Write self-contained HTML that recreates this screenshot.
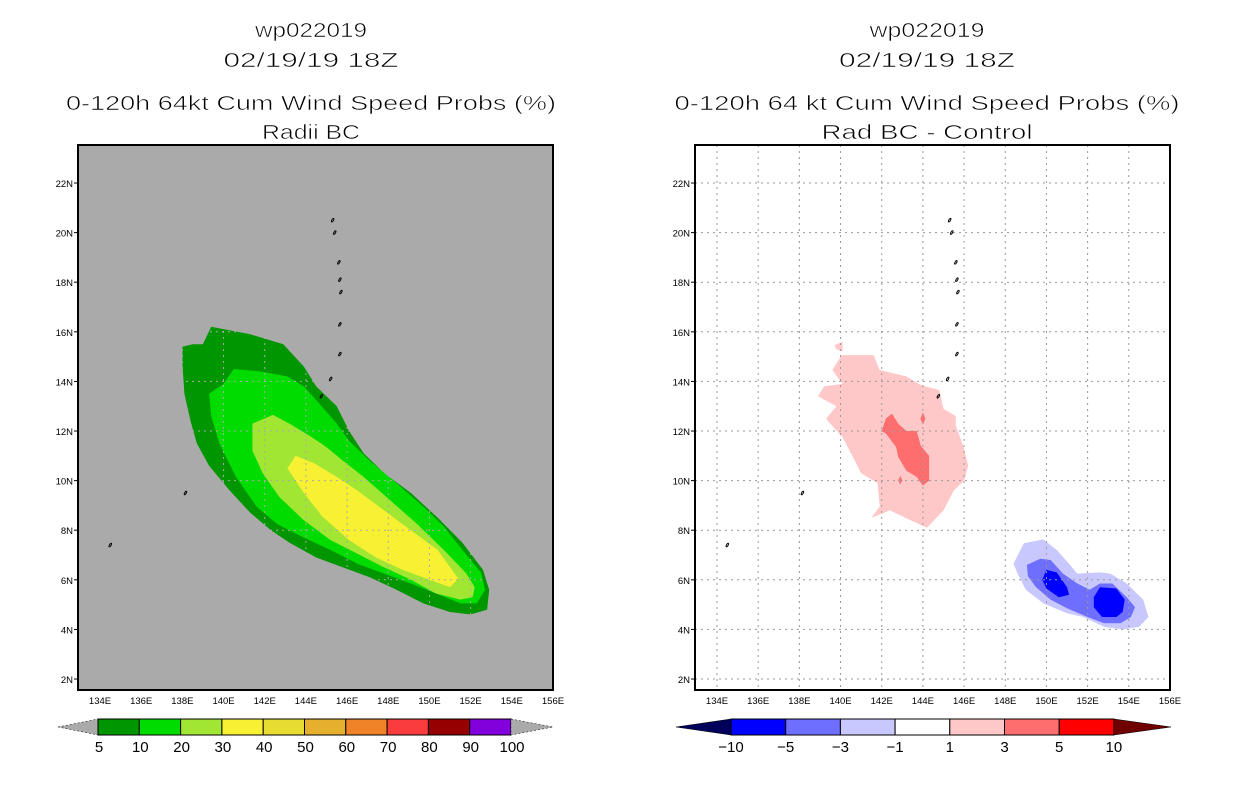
<!DOCTYPE html>
<html><head><meta charset="utf-8"><style>
html,body{margin:0;padding:0;background:#fff;}
svg{display:block;font-family:"Liberation Sans",sans-serif;}
</style></head><body>
<svg id="s" width="1236" height="800" viewBox="0 0 1236 800"></svg>
<script>
// ---- data ----
const lonTicks=[134,136,138,140,142,144,146,148,150,152,154,156];
const latTicks=[2,4,6,8,10,12,14,16,18,20,22];
const probLevels=[5,10,20,30,40,50,60,70,80,90,100];
const probColors=["#009600","#00dc00","#a0e632","#f8f032","#e6dc32","#e6af2d","#f08228","#fa3c3c","#960000","#8200dc"];
const diffLevels=[-10,-5,-3,-1,1,3,5,10];
const diffColors=["#0000ff","#6e6eff","#c8c8ff","#ffffff","#ffc8c8","#ff6e6e","#ff0000"];
// contours [lon,lat]
const prob5=[[139.4,16.2],[141.3,15.9],[142.9,15.5],[143.9,14.6],[144.5,13.8],[145.5,13.0],[146.1,12.0],[146.8,11.1],[147.8,10.3],[149.1,9.5],[150.4,8.5],[151.6,7.5],[152.6,6.4],[152.9,5.6],[152.8,4.8],[152.0,4.6],[151.0,4.7],[149.7,5.05],[148.4,5.6],[147.1,6.1],[145.8,6.5],[144.5,6.9],[143.2,7.5],[142.3,8.0],[141.3,8.7],[140.3,9.6],[139.3,10.6],[138.7,11.5],[138.4,12.4],[138.1,13.5],[138.0,14.7],[138.0,15.4],[138.5,15.5],[139.0,15.5]];
const prob10=[[140.5,14.5],[141.8,14.4],[143.1,14.2],[143.9,13.8],[144.5,13.25],[145.5,12.3],[146.1,11.6],[147.1,10.8],[148.4,9.9],[149.7,8.95],[150.7,8.15],[151.6,7.2],[152.5,6.3],[152.7,5.6],[152.3,5.05],[151.5,5.05],[150.3,5.45],[149.1,5.85],[147.8,6.25],[146.5,6.65],[145.2,7.2],[143.9,7.7],[142.6,8.25],[141.6,8.95],[140.6,10.15],[139.8,11.5],[139.4,12.6],[139.3,13.5],[140.0,13.9]];
const prob20=[[141.4,12.3],[142.4,12.65],[143.2,12.3],[144.2,11.8],[145.0,11.35],[145.8,10.8],[146.8,10.15],[148.1,9.2],[149.4,8.25],[150.7,7.2],[151.8,6.25],[152.2,5.7],[152.1,5.3],[151.5,5.2],[150.3,5.45],[149.1,6.0],[147.8,6.5],[146.5,7.05],[145.2,7.6],[143.9,8.4],[142.7,9.35],[141.9,10.3],[141.4,11.2]];
const prob30=[[143.5,11.0],[144.4,10.7],[145.5,10.15],[146.5,9.6],[147.8,8.8],[149.1,8.0],[150.4,7.2],[151.4,6.05],[151.0,5.7],[150.0,6.0],[148.7,6.4],[147.4,6.9],[146.1,7.6],[144.8,8.55],[143.9,9.5],[143.1,10.5]];
const diffP1=[[140.06,15.06],[141.6,15.06],[141.9,14.46],[143.2,14.2],[143.9,13.85],[144.8,13.65],[145.0,12.9],[145.6,12.6],[145.6,12.2],[145.96,11.4],[146.2,10.6],[146.0,10.0],[145.5,9.6],[145.0,8.8],[144.2,8.1],[143.4,8.4],[142.4,8.8],[141.5,8.5],[141.9,8.95],[141.8,9.9],[141.0,10.3],[140.6,10.95],[140.1,11.75],[139.5,12.3],[139.3,12.5],[139.8,13.0],[138.9,13.4],[139.2,13.8],[140.1,13.9],[139.6,14.46]];
const diffP1b=[[139.7,15.45],[140.1,15.6],[140.1,15.2],[139.8,15.3]];
const diffP3=[[142.5,12.7],[142.8,12.3],[143.2,12.0],[143.7,12.0],[143.9,11.4],[144.3,11.0],[144.3,10.7],[144.3,10.0],[144.0,9.8],[143.7,10.15],[143.2,10.4],[142.8,10.95],[142.7,11.35],[142.2,11.9],[142.0,12.0],[142.2,12.5]];
const diffP3b=[[144.0,12.75],[144.12,12.5],[144.0,12.25],[143.88,12.5]];
const diffP3c=[[142.9,10.2],[143.0,10.0],[142.9,9.85],[142.8,10.0]];
const diffN1=[[148.9,7.47],[149.85,7.63],[150.5,7.2],[151.1,6.65],[151.5,6.25],[152.6,6.3],[153.1,6.25],[153.9,5.85],[154.7,5.2],[154.95,4.5],[154.5,4.1],[153.7,4.0],[152.8,4.1],[151.8,4.5],[151.0,4.65],[149.85,5.05],[149.0,5.6],[148.6,6.25],[148.4,6.65]];
const diffN3=[[149.05,6.6],[149.7,6.85],[150.2,6.8],[150.8,6.25],[151.5,5.85],[152.1,5.6],[152.6,5.85],[153.2,5.85],[153.9,5.3],[154.3,4.9],[154.1,4.5],[153.6,4.25],[152.8,4.25],[152.0,4.5],[151.0,4.85],[150.2,5.2],[149.5,5.7],[149.1,6.15]];
const diffN5a=[[150.0,6.4],[150.5,6.3],[151.0,5.7],[151.1,5.4],[150.6,5.3],[150.0,5.65],[149.8,6.0]];
const diffN5b=[[152.6,5.7],[153.4,5.65],[153.8,5.2],[153.7,4.7],[153.4,4.5],[152.7,4.5],[152.3,4.9],[152.3,5.3]];
const islands=[[145.3,20.5],[145.4,20.0],[145.6,18.8],[145.65,18.1],[145.7,17.6],[145.65,16.3],[145.65,15.1],[145.2,14.1],[144.75,13.4],[138.15,9.5],[134.5,7.4]];

// ---- axes ----
const PX=20.59, PY=24.8;
const panels=[{x0:100,box:[78,145,553,690],bg:"#aaaaaa",grid:"#aaaaaa"},{x0:717,box:[695,145,1170,690],bg:"#ffffff",grid:"#999999"}];
function xS(p,lon){return p.x0+(lon-134)*PX;}
function yS(lat){return 679-(lat-2)*PY;}
const NS="http://www.w3.org/2000/svg", svg=document.getElementById('s');
function el(t,a,parent){const e=document.createElementNS(NS,t);for(const k in a)e.setAttribute(k,a[k]);(parent||svg).appendChild(e);return e;}
function poly(p,pts,fill,name){const e=el('polygon',{points:pts.map(q=>xS(p,q[0]).toFixed(1)+','+yS(q[1]).toFixed(1)).join(' '),fill:fill});


return e;}
function txt(x,y,s,size,anchor,len,name,weight){const e=el('text',{x:x,y:y,'font-size':size,'text-anchor':anchor||'middle',fill:'#000'});if(len){e.setAttribute('textLength',len);e.setAttribute('lengthAdjust','spacingAndGlyphs');}if(weight){e.setAttribute('stroke','#fff');e.setAttribute('stroke-width',weight);e.setAttribute('paint-order','normal');}e.textContent=s;


return e;}

panels.forEach((p,i)=>{
  const [L,T,R,B]=p.box;
  const bg=el('rect',{x:L,y:T,width:R-L,height:B-T,fill:p.bg});
  
  
  if(i===0){
    poly(p,prob5,probColors[0],'contour-5pct');poly(p,prob10,probColors[1],'contour-10pct');
    poly(p,prob20,probColors[2],'contour-20pct');poly(p,prob30,probColors[3],'contour-30pct');
  } else {
    poly(p,diffP1,diffColors[4],'diff-contour-plus1');poly(p,diffP1b,diffColors[4],'diff-contour-plus1');
    poly(p,diffP3,diffColors[5],'diff-contour-plus3');poly(p,diffP3b,diffColors[5],'diff-contour-plus3');poly(p,diffP3c,diffColors[5],'diff-contour-plus3');
    poly(p,diffN1,diffColors[2],'diff-contour-minus1');poly(p,diffN3,diffColors[1],'diff-contour-minus3');
    poly(p,diffN5a,diffColors[0],'diff-contour-minus5');poly(p,diffN5b,diffColors[0],'diff-contour-minus5');
  }
  lonTicks.forEach(v=>{const x=xS(p,v);if(x>L+2&&x<R-2){const g=el('line',{x1:x,y1:T,x2:x,y2:B,stroke:p.grid,'stroke-width':1,'stroke-dasharray':'2,4'});
    
    }});
  latTicks.forEach(v=>{const y=yS(v);const g=el('line',{x1:L,y1:y,x2:R,y2:y,stroke:p.grid,'stroke-width':1,'stroke-dasharray':'2,4'});
    
    });
  islands.forEach(q=>{const c=el('ellipse',{cx:xS(p,q[0]),cy:yS(q[1]),rx:0.8,ry:2,fill:'none',stroke:'#000','stroke-width':1,transform:`rotate(30 ${xS(p,q[0])} ${yS(q[1])})`});
    
    });
  const fr=el('rect',{x:L,y:T,width:R-L,height:B-T,fill:'none',stroke:'#000','stroke-width':2});
  
  
  latTicks.forEach(v=>{const y=yS(v);el('line',{x1:L-4,y1:y,x2:L,y2:y,stroke:'#000'});txt(L-5,y+4,v+'N',9.5,'end',null,'y-tick-label');});
  lonTicks.forEach(v=>{const x=xS(p,v);txt(x,704,v+'E',9.5,'middle',null,'x-tick-label');});
});

const titles=[[311,"wp022019","02/19/19 18Z","0-120h 64kt Cum Wind Speed Probs (%)","Radii BC",[112,175,490,98]],
              [927,"wp022019","02/19/19 18Z","0-120h 64 kt Cum Wind Speed Probs (%)","Rad BC - Control",[115,176,505,211]]];
titles.forEach(t=>{txt(t[0],37,t[1],20,'middle',t[5][0],'storm-id-title',0.6);txt(t[0],67,t[2],20,'middle',t[5][1],'date-title',0.6);
  txt(t[0],110,t[3],20,'middle',t[5][2],'chart-title',0.6);txt(t[0],139,t[4],20,'middle',t[5][3],'chart-subtitle',0.6);});

(function(){const y0=719,h=16,x0=98,w=41.3;
  const lt=el('polygon',{points:`58,727 ${x0},${y0} ${x0},${y0+h}`,fill:'#aaaaaa',stroke:'#000','stroke-width':0.5,'stroke-dasharray':'2,2'});
  
  probColors.forEach((c,i)=>{const r=el('rect',{x:x0+i*w,y:y0,width:w,height:h,fill:c,stroke:'#000','stroke-width':1});
    });
  const xe=x0+probColors.length*w;
  const rt=el('polygon',{points:`${xe},${y0} 553,727 ${xe},${y0+h}`,fill:'#aaaaaa',stroke:'#000','stroke-width':0.5,'stroke-dasharray':'2,2'});
  
  probLevels.forEach((v,i)=>txt(x0+i*w+1,752,String(v),15,'middle',null,'colorbar-label'));
})();
(function(){const y0=719,h=16,x0=731,w=54.7;
  const lt=el('polygon',{points:`676,727 ${x0},${y0} ${x0},${y0+h}`,fill:'#00005a',stroke:'#000','stroke-width':0.5});
  
  diffColors.forEach((c,i)=>{const r=el('rect',{x:x0+i*w,y:y0,width:w,height:h,fill:c,stroke:'#000','stroke-width':1});
    });
  const xe=x0+diffColors.length*w;
  const rt=el('polygon',{points:`${xe},${y0} 1171,727 ${xe},${y0+h}`,fill:'#6e0000',stroke:'#000','stroke-width':0.5});
  
  diffLevels.forEach((v,i)=>txt(x0+i*w,752,String(v).replace('-','\u2212'),15,'middle',null,'diff-colorbar-label'));
})();
</script>
</body></html>
